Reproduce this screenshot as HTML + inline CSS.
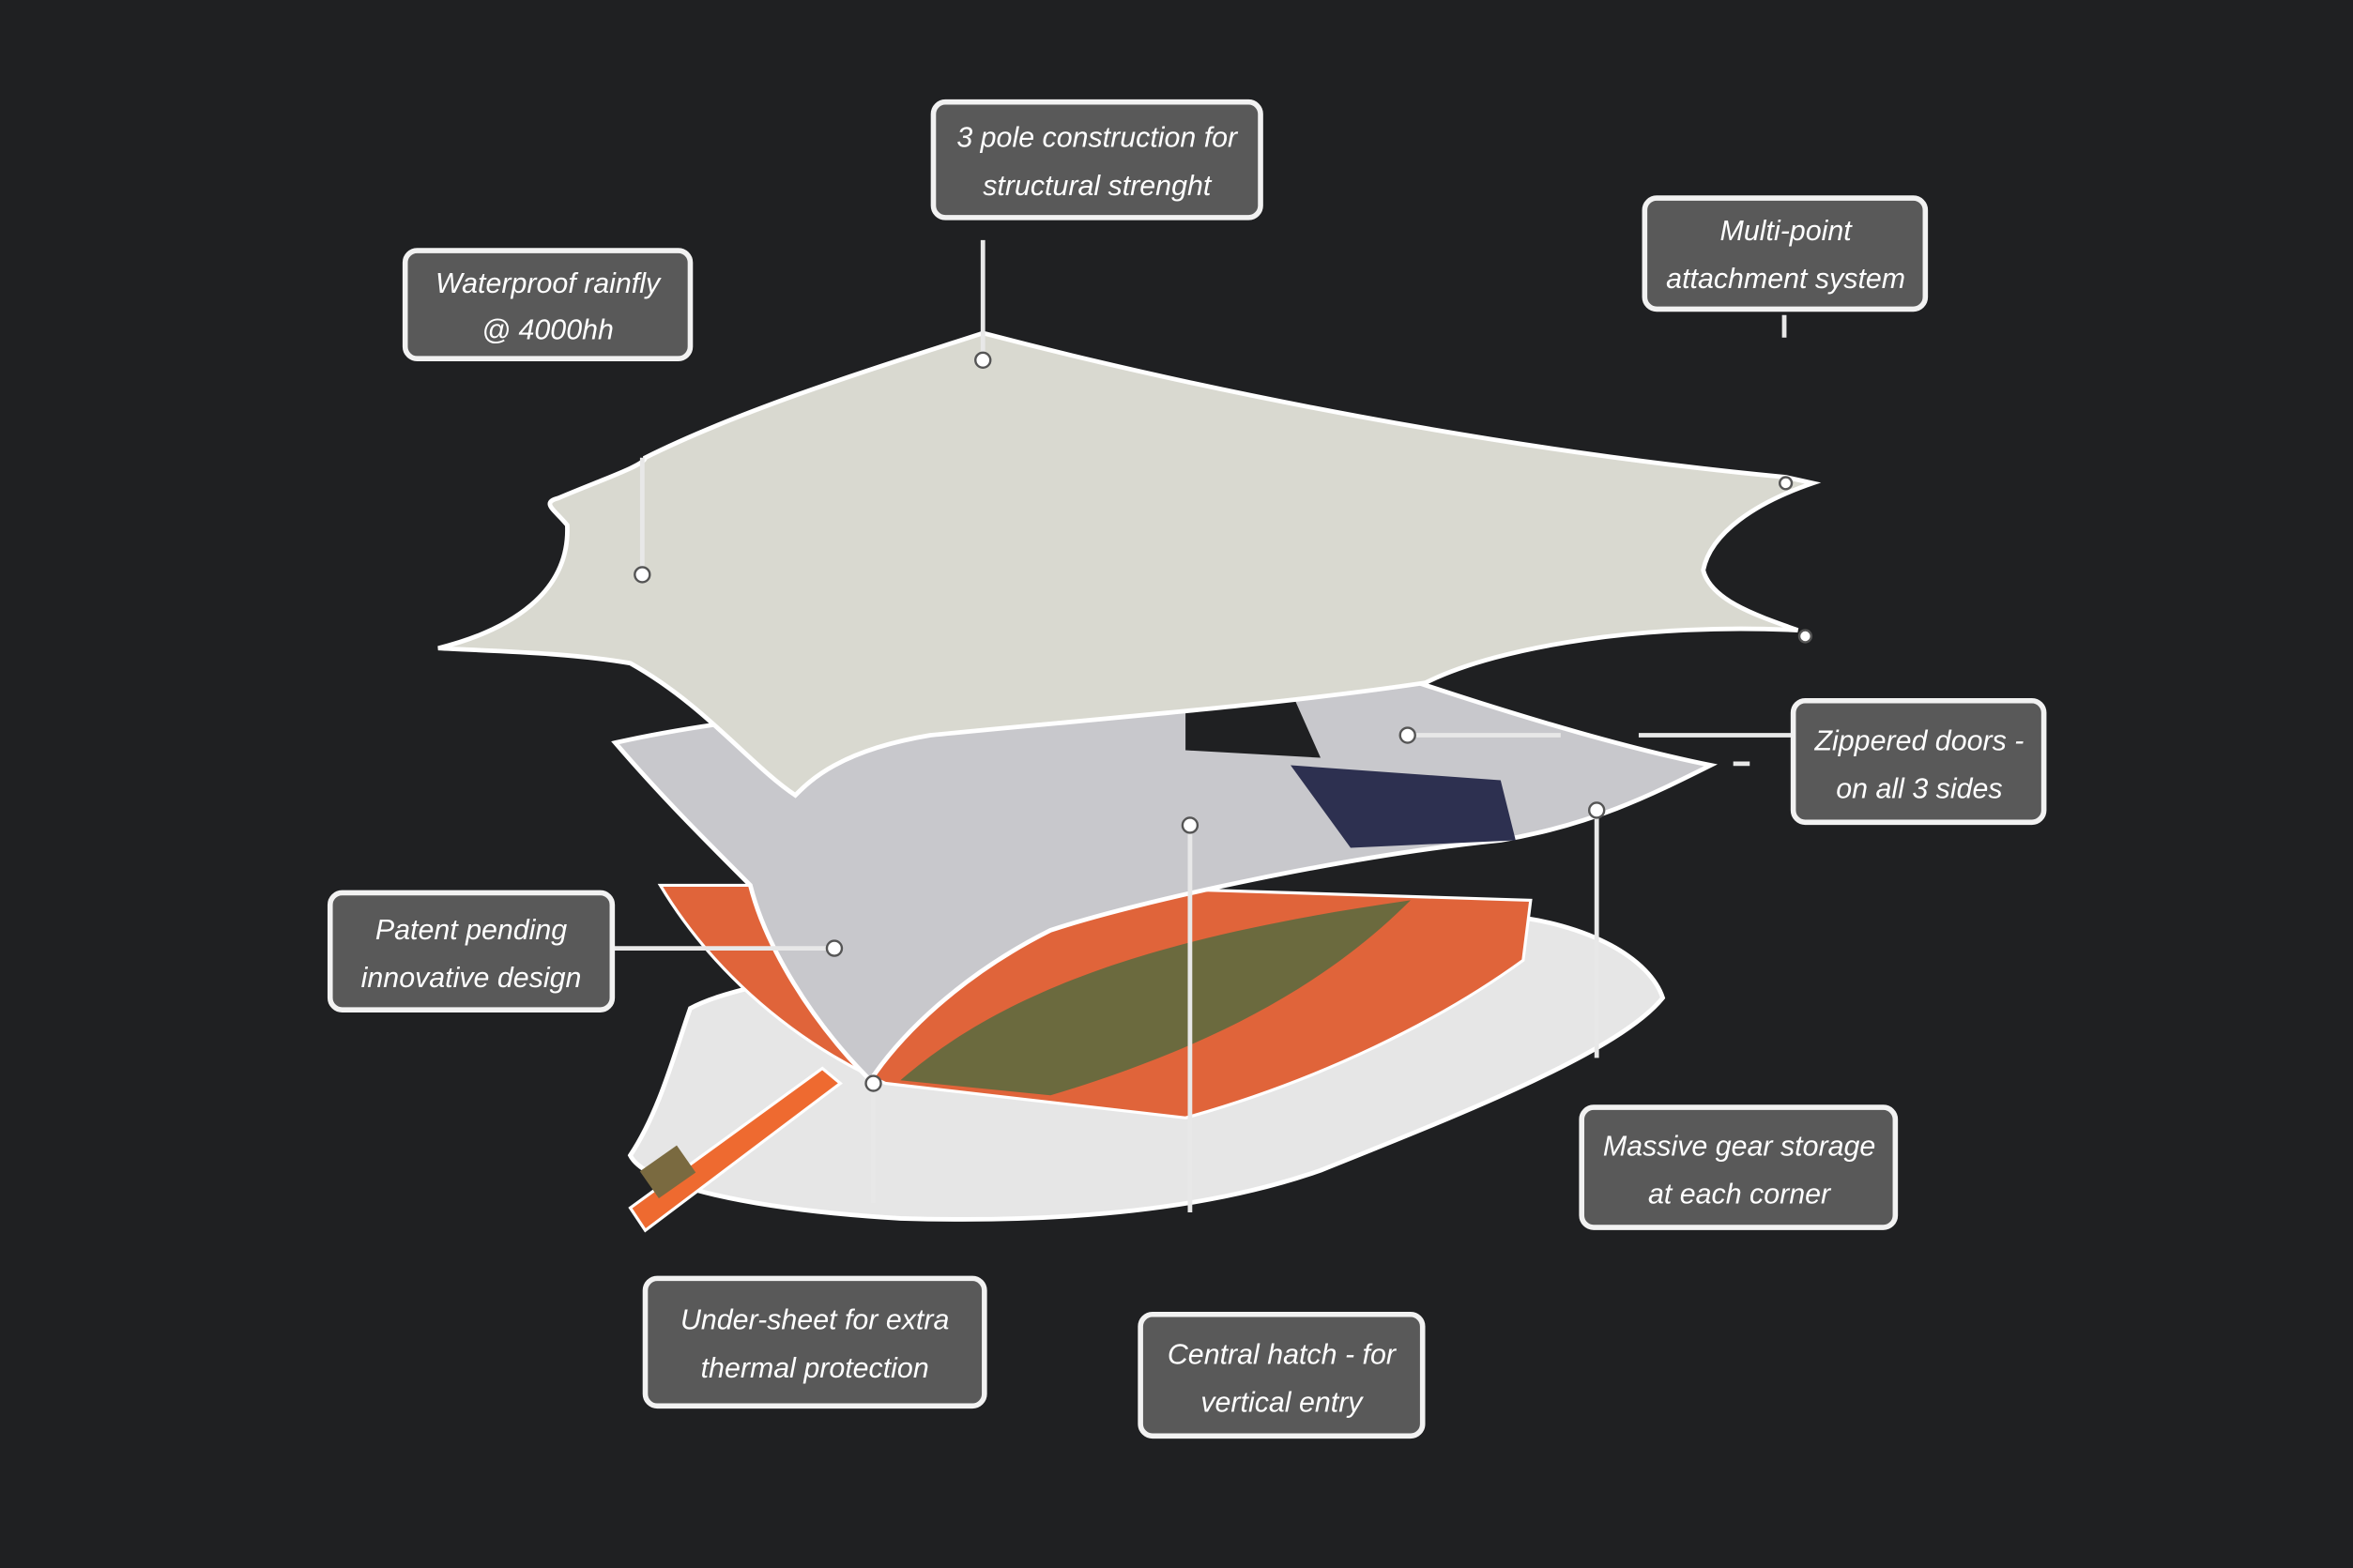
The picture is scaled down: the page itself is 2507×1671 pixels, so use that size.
<!DOCTYPE html>
<html><head><meta charset="utf-8"><style>
html,body{margin:0;padding:0;background:#1f2022;}
svg{display:block}
text{font-family:"Liberation Sans",sans-serif;font-style:italic;fill:#fff;font-size:19px;text-anchor:middle}
.b{fill:#595959;stroke:#f2f2f2;stroke-width:3.5}
.l{stroke:#e8e8e8;stroke-width:3;fill:none}
.d{fill:#fff;stroke:#555;stroke-width:1.5}
</style></head><body>
<svg width="2507" height="1671" viewBox="0 0 1568 1045" preserveAspectRatio="none">
<rect width="1568" height="1045" fill="#1f2022"/>
<!-- shadow -->
<path d="M460,672 C500,650 620,640 700,630 L1000,610 C1060,615 1100,640 1108,665 C1080,700 980,740 880,780 C800,808 700,815 600,812 C500,806 430,790 420,770 C440,740 450,700 460,672Z" fill="#e6e6e6" stroke="#fff" stroke-width="3"/>
<!-- orange body -->
<path d="M440,590 L700,590 L1020,600 L1015,640 C960,680 880,720 790,745 L590,722 C520,690 470,640 440,590Z" fill="#e0643a" stroke="#fff" stroke-width="2"/>
<path d="M600,720 C680,650 800,620 940,600 C880,660 800,700 700,730Z" fill="#6b6a3e"/>
<!-- inner tent -->
<path d="M410,495 C520,470 700,460 945,455 C1020,480 1090,500 1140,510 C1100,530 1060,550 1000,560 C900,570 760,600 700,620 C640,650 600,690 580,720 C540,680 510,630 500,590 C470,560 440,530 410,495Z" fill="#c8c8cc" stroke="#fff" stroke-width="3"/>
<path d="M790,465 L860,460 L880,505 L790,500Z" fill="#1f2022"/>
<path d="M860,510 L1000,520 L1010,560 L900,565 Z" fill="#2d3050"/>
<!-- strap -->
<path d="M548,712 L420,805 L430,820 L560,722Z" fill="#ee6a30" stroke="#fff" stroke-width="2"/>
<rect x="430" y="770" width="30" height="22" fill="#7a6a40" transform="rotate(-35 445 781)"/>
<!-- rainfly -->
<path d="M655,222 C800,260 1000,300 1190,318 L1208,322 C1170,335 1140,355 1135,380 C1140,400 1170,410 1198,420 C1100,415 1000,430 950,455 C850,470 720,480 620,490 C560,500 540,520 530,530 C500,510 470,470 420,442 C380,435 330,434 292,432 C340,420 380,395 378,350 C370,340 360,335 372,332 C400,320 430,310 430,305 C500,270 600,240 655,222Z" fill="#d9d9d0" stroke="#fff" stroke-width="3"/>
<!-- connectors -->
<path class="l" d="M655,160 V240 M428,305 V383 M1189,210 V225 M1092,490 H1195 M938,490 H1040 M1155,509 H1166 M1064,540 V705 M408,632 H556 M582,722 V802 M793,550 V808"/>
<circle class="d" cx="655" cy="240" r="5"/><circle class="d" cx="428" cy="383" r="5"/>
<circle class="d" cx="1190" cy="322" r="4"/><circle class="d" cx="1203" cy="424" r="4"/>
<circle class="d" cx="938" cy="490" r="5"/><circle class="d" cx="1064" cy="540" r="5"/>
<circle class="d" cx="556" cy="632" r="5"/><circle class="d" cx="582" cy="722" r="5"/>
<circle class="d" cx="793" cy="550" r="5"/>
<!-- boxes -->
<rect class="b" x="622" y="68" width="218" height="77" rx="8"/>
<text x="731" y="98">3 pole construction for</text><text x="731" y="130">structural strenght</text>
<rect class="b" x="270" y="167" width="190" height="72" rx="8"/>
<text x="365" y="195">Waterproof rainfly</text><text x="365" y="226">@ 4000hh</text>
<rect class="b" x="1096" y="132" width="187" height="74" rx="8"/>
<text x="1190" y="160">Multi-point</text><text x="1190" y="192">attachment system</text>
<rect class="b" x="1195" y="467" width="167" height="81" rx="8"/>
<text x="1279" y="500">Zippered doors -</text><text x="1279" y="532">on all 3 sides</text>
<rect class="b" x="220" y="595" width="188" height="78" rx="8"/>
<text x="314" y="626">Patent pending</text><text x="314" y="658">innovative design</text>
<rect class="b" x="1054" y="738" width="209" height="80" rx="8"/>
<text x="1159" y="770">Massive gear storage</text><text x="1159" y="802">at each corner</text>
<rect class="b" x="430" y="852" width="226" height="85" rx="8"/>
<text x="543" y="886">Under-sheet for extra</text><text x="543" y="918">thermal protection</text>
<rect class="b" x="760" y="876" width="188" height="81" rx="8"/>
<text x="854" y="909">Central hatch - for</text><text x="854" y="941">vertical entry</text>
</svg>
</body></html>
